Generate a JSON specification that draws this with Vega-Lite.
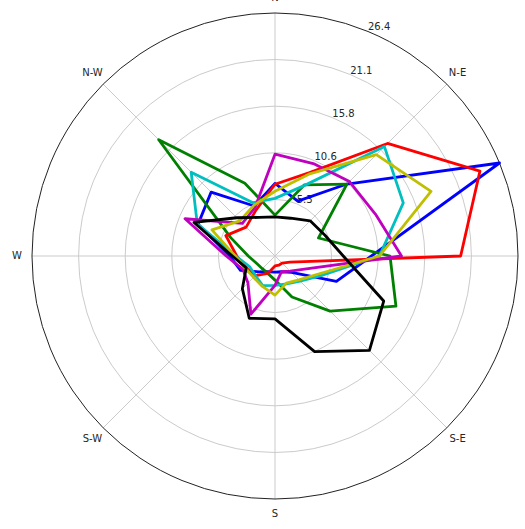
{
  "$schema": "https://vega.github.io/schema/vega-lite/v6.json",
  "width": 486,
  "height": 486,
  "autosize": "none",
  "padding": {"left": 32, "top": 13, "right": 7, "bottom": 30},
  "background": "white",
  "config": {"view": {"stroke": null}, "text": {"font": "DejaVu Sans"}},
  "datasets": {
    "wind": [
      {"dir": "N", "deg": 0, "b": 7.1, "g": 3.5, "r": 7.0, "c": 5.4, "m": 10.4, "y": 6.2, "k": 3.3},
      {"dir": "NNE", "deg": 22.5, "b": 5.6, "g": 7.6, "r": 9.1, "c": 7.5, "m": 10.2, "y": 8.9, "k": 3.5},
      {"dir": "NE", "deg": 45, "b": 10.4, "g": 10.4, "r": 16.9, "c": 16.4, "m": 10.8, "y": 15.1, "k": 4.5},
      {"dir": "ENE", "deg": 67.5, "b": 26.4, "g": 4.2, "r": 24.0, "c": 14.6, "m": 11.2, "y": 18.0, "k": 5.0},
      {"dir": "E", "deg": 90, "b": 9.8, "g": 11.9, "r": 19.9, "c": 10.7, "m": 13.2, "y": 10.7, "k": 6.6},
      {"dir": "ESE", "deg": 112.5, "b": 6.4, "g": 13.7, "r": 0.7, "c": 4.6, "m": 2.7, "y": 4.2, "k": 12.2},
      {"dir": "SE", "deg": 135, "b": 1.5, "g": 7.7, "r": 0.0, "c": 2.9, "m": 1.3, "y": 2.7, "k": 14.0},
      {"dir": "SSE", "deg": 157.5, "b": 0.8, "g": 3.9, "r": 0.0, "c": 2.3, "m": 0.8, "y": 2.2, "k": 10.6},
      {"dir": "S", "deg": 180, "b": 0.7, "g": 1.6, "r": 0.0, "c": 2.2, "m": 2.2, "y": 3.3, "k": 6.0},
      {"dir": "SSW", "deg": 202.5, "b": 0.8, "g": 1.0, "r": 1.0, "c": 2.5, "m": 6.0, "y": 2.6, "k": 6.5},
      {"dir": "SW", "deg": 225, "b": 1.4, "g": 0.9, "r": 2.0, "c": 2.0, "m": 3.2, "y": 2.3, "k": 4.1},
      {"dir": "WSW", "deg": 247.5, "b": 3.1, "g": 1.1, "r": 2.4, "c": 2.0, "m": 2.8, "y": 2.5, "k": 2.4},
      {"dir": "W", "deg": 270, "b": 4.0, "g": 1.9, "r": 3.2, "c": 3.3, "m": 4.4, "y": 3.4, "k": 3.7},
      {"dir": "WNW", "deg": 292.5, "b": 8.3, "g": 4.3, "r": 4.9, "c": 8.4, "m": 9.9, "y": 6.6, "k": 8.8},
      {"dir": "NW", "deg": 315, "b": 9.1, "g": 17.5, "r": 3.5, "c": 12.3, "m": 4.1, "y": 4.5, "k": 5.0},
      {"dir": "NNW", "deg": 337.5, "b": 5.0, "g": 7.8, "r": 4.5, "c": 5.4, "m": 4.8, "y": 5.1, "k": 3.6}
    ],
    "rings": [
      {"v": 5.28, "label": "5.3"},
      {"v": 10.56, "label": "10.6"},
      {"v": 15.84, "label": "15.8"},
      {"v": 21.12, "label": "21.1"},
      {"v": 26.4, "label": "26.4"}
    ],
    "dirs": [
      {"deg": 0, "label": "N"},
      {"deg": 45, "label": "N-E"},
      {"deg": 90, "label": "E"},
      {"deg": 135, "label": "S-E"},
      {"deg": 180, "label": "S"},
      {"deg": 225, "label": "S-W"},
      {"deg": 270, "label": "W"},
      {"deg": 315, "label": "N-W"}
    ]
  },
  "encoding": {
    "x": {"field": "x", "type": "quantitative", "scale": {"domain": [-27.53, 27.53], "nice": false, "zero": false}, "axis": null},
    "y": {"field": "y", "type": "quantitative", "scale": {"domain": [-27.53, 27.53], "nice": false, "zero": false}, "axis": null}
  },
  "layer": [
    {
      "data": {"name": "rings"},
      "transform": [
        {"filter": "datum.v < 26"},
        {"calculate": "0", "as": "x"},
        {"calculate": "0", "as": "y"},
        {"calculate": "datum.v + 1.131", "as": "u"}
      ],
      "mark": {"type": "point", "shape": "circle", "filled": false, "color": "#cbcbcb", "strokeWidth": 1, "opacity": 1},
      "encoding": {
        "size": {"field": "u", "type": "quantitative", "scale": {"type": "pow", "exponent": 2, "domain": [0, 27.53], "range": [0, 236196]}, "legend": null}
      }
    },
    {
      "data": {"name": "dirs"},
      "transform": [
        {"calculate": "27.53 * sin(datum.deg * PI / 180)", "as": "x"},
        {"calculate": "27.53 * cos(datum.deg * PI / 180)", "as": "y"}
      ],
      "mark": {"type": "rule", "color": "#cbcbcb", "strokeWidth": 1},
      "encoding": {"x2": {"datum": 0}, "y2": {"datum": 0}}
    },
    {
      "data": {"name": "rings"},
      "transform": [
        {"filter": "datum.v > 26"},
        {"calculate": "0", "as": "x"},
        {"calculate": "0", "as": "y"},
        {"calculate": "datum.v + 1.131", "as": "u"}
      ],
      "mark": {"type": "point", "shape": "circle", "filled": false, "color": "#222222", "strokeWidth": 1, "opacity": 1},
      "encoding": {
        "size": {"field": "u", "type": "quantitative", "scale": {"type": "pow", "exponent": 2, "domain": [0, 27.53], "range": [0, 236196]}, "legend": null}
      }
    },
    {
      "data": {"name": "rings"},
      "transform": [
        {"calculate": "(datum.v + 1.131) * sin(22.5 * PI / 180)", "as": "x"},
        {"calculate": "(datum.v + 1.131) * cos(22.5 * PI / 180)", "as": "y"}
      ],
      "mark": {"type": "text", "align": "left", "baseline": "bottom", "fontSize": 10, "color": "#262626", "dy": 1},
      "encoding": {"text": {"field": "label"}}
    },
    {
      "data": {"name": "wind"},
      "transform": [
        {"fold": ["b", "g", "r", "c", "m", "y", "k"], "as": ["series", "v"]},
        {"calculate": "(datum.v + 1.131) * sin(datum.deg * PI / 180)", "as": "x"},
        {"calculate": "(datum.v + 1.131) * cos(datum.deg * PI / 180)", "as": "y"}
      ],
      "mark": {"type": "line", "interpolate": "linear-closed", "strokeWidth": 2.8, "strokeJoin": "round"},
      "encoding": {
        "color": {"field": "series", "type": "nominal", "scale": {"domain": ["b", "g", "r", "c", "m", "y", "k"], "range": ["#0000ff", "#008000", "#ff0000", "#00bfbf", "#bf00bf", "#bfbf00", "#000000"]}, "legend": null},
        "order": {"field": "deg", "type": "quantitative"}
      }
    },
    {
      "data": {"name": "dirs"},
      "transform": [
        {"filter": "datum.label != 'E'"},
        {"calculate": "29.25 * sin(datum.deg * PI / 180)", "as": "x"},
        {"calculate": "29.25 * cos(datum.deg * PI / 180)", "as": "y"}
      ],
      "mark": {"type": "text", "align": "center", "baseline": "middle", "fontSize": 10, "color": "#262626"},
      "encoding": {"text": {"field": "label"}}
    }
  ]
}
